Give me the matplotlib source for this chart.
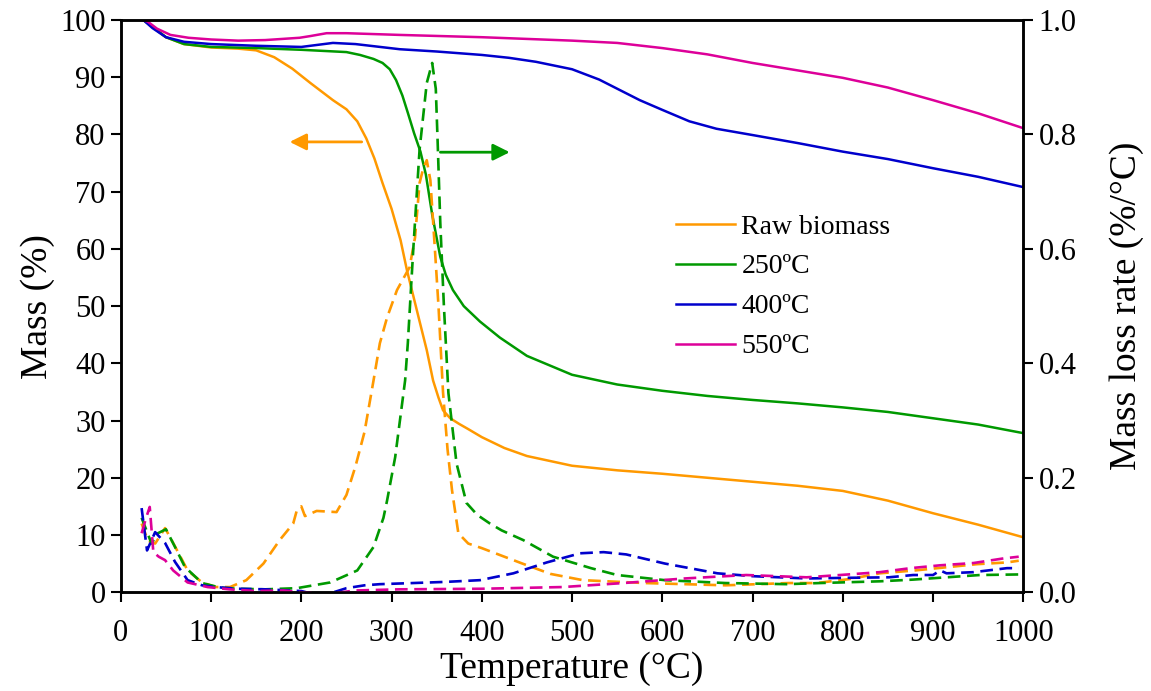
import matplotlib
matplotlib.use("Agg")
import matplotlib.pyplot as plt

plt.rcParams['font.family'] = ['Liberation Serif', 'DejaVu Serif']

# --- data ---
# mass curves (left axis, %)
t_raw = [25, 35, 50, 70, 100, 130, 150, 170, 190, 210, 235, 250, 262, 272, 281, 290, 300, 310, 317,
         330, 339, 346, 352, 357, 365, 375, 385, 400, 425, 450, 500, 550, 600, 650, 700, 750,
         800, 850, 900, 950, 1000]
m_raw = [100, 98.8, 97, 95.8, 95.2, 95.0, 94.7, 93.5, 91.5, 89, 86, 84.4, 82.3, 79.3, 75.8, 71.5,
         67, 61.5, 56.3, 48, 42.3, 37, 34, 31.8, 30.4, 29.4, 28.5, 27.1, 25.2, 23.8, 22.1, 21.3,
         20.7, 20.0, 19.3, 18.6, 17.7, 16.0, 13.8, 11.8, 9.6]

t_250 = [25, 35, 50, 70, 100, 150, 200, 250, 265, 280, 290, 298, 305, 312, 318, 325, 332, 338, 345,
         354, 360, 368, 380, 398, 420, 450, 500, 550, 600, 650, 700, 750, 800, 850, 900, 950, 1000]
m_250 = [100, 98.8, 97, 95.8, 95.3, 95.1, 94.8, 94.4, 93.9, 93.2, 92.5, 91.4, 89.5, 86.8, 83.8,
         80.2, 77, 73, 66, 58.6, 55.5, 52.8, 50, 47.3, 44.5, 41.3, 38, 36.3, 35.2, 34.3, 33.6, 33.0,
         32.3, 31.5, 30.4, 29.3, 27.8]

t_400 = [25, 35, 50, 70, 100, 150, 200, 215, 235, 260, 309, 350, 400, 430, 460, 500, 530, 550,
         575, 600, 630, 660, 700, 750, 800, 850, 900, 950, 1000]
m_400 = [100, 98.6, 97, 96.2, 95.8, 95.5, 95.3, 95.6, 96.0, 95.8, 94.9, 94.5, 93.9, 93.4, 92.7,
         91.4, 89.6, 88, 86, 84.3, 82.3, 81, 79.9, 78.5, 77, 75.7, 74.1, 72.6, 70.8]

t_550 = [25, 30, 40, 55, 75, 100, 130, 160, 198, 210, 228, 250, 309, 400, 500, 550, 600, 650,
         700, 750, 800, 850, 900, 950, 1000]
m_550 = [100, 99.7, 98.5, 97.4, 96.9, 96.6, 96.4, 96.5, 96.9, 97.2, 97.7, 97.7, 97.4, 97.0,
         96.4, 96.0, 95.1, 94.0, 92.5, 91.2, 89.9, 88.2, 86.0, 83.7, 81.1]

# mass loss rate curves (right axis, %/°C)
tr_raw = [23, 30, 38, 49, 60, 74, 90, 105, 121, 139, 158, 176, 191, 195, 200, 204, 217, 239, 250,
          260, 270, 280, 287, 295, 306, 320, 326, 331, 335, 339, 343, 348, 352, 357, 362, 367,
          374, 385, 400, 420, 445, 476, 512, 580, 670, 740, 771, 808, 841, 880, 949, 982, 995]
r_raw = [0.12, 0.09, 0.085, 0.112, 0.08, 0.038, 0.017, 0.009, 0.009, 0.021, 0.05, 0.091, 0.12,
         0.143, 0.15, 0.133, 0.142, 0.14, 0.17, 0.22, 0.28, 0.37, 0.435, 0.48, 0.528, 0.568, 0.62,
         0.715, 0.74, 0.755, 0.72, 0.6, 0.5, 0.35, 0.25, 0.178, 0.103, 0.085, 0.077, 0.065, 0.05,
         0.032, 0.021, 0.016, 0.012, 0.016, 0.016, 0.023, 0.033, 0.038, 0.049, 0.052, 0.055]

tr_250 = [23, 34, 41, 50, 60, 71, 90, 110, 130, 160, 195, 232, 262, 280, 291, 295, 304, 315, 318,
          324, 331, 339, 345, 349, 351, 354, 358, 363, 372, 383, 395, 409, 422, 446, 479, 521,
          550, 603, 670, 738, 775, 841, 878, 915, 952, 995]
r_250 = [0.13, 0.085, 0.103, 0.11, 0.079, 0.044, 0.016, 0.008, 0.006, 0.005, 0.007, 0.017, 0.038,
         0.079, 0.13, 0.16, 0.236, 0.37, 0.435, 0.598, 0.773, 0.89, 0.925, 0.88, 0.79, 0.645, 0.5,
         0.348, 0.225, 0.156, 0.135, 0.12, 0.108, 0.091, 0.062, 0.042, 0.03, 0.021, 0.016, 0.014,
         0.016, 0.019, 0.022, 0.026, 0.03, 0.031]

tr_400 = [23, 29, 38, 49, 60, 74, 90, 104, 130, 160, 200, 215, 228, 250, 270, 287, 324, 360, 398,
          435, 472, 509, 535, 560, 603, 661, 700, 760, 800, 851, 878, 900, 908, 915, 945, 982, 995]
r_400 = [0.147, 0.073, 0.105, 0.086, 0.053, 0.021, 0.012, 0.009, 0.006, 0.005, 0.002, -0.004,
         -0.004, 0.007, 0.012, 0.014, 0.016, 0.018, 0.021, 0.033, 0.052, 0.068, 0.07, 0.066, 0.05,
         0.033, 0.028, 0.024, 0.025, 0.026, 0.03, 0.03, 0.038, 0.033, 0.035, 0.042, 0.042]

tr_550 = [23, 28, 32, 36, 42, 49, 58, 74, 96, 120, 150, 180, 200, 230, 260, 309, 400, 490, 557,
          625, 693, 760, 806, 841, 875, 908, 945, 978, 995]
r_550 = [0.103, 0.13, 0.149, 0.07, 0.062, 0.056, 0.038, 0.017, 0.009, 0.005, 0.002, 0.003, 0.0,
         -0.003, 0.003, 0.005, 0.006, 0.009, 0.016, 0.024, 0.03, 0.026, 0.031, 0.035, 0.042,
         0.047, 0.051, 0.059, 0.062]

labels = ['Raw biomass', '250ºC', '400ºC', '550ºC']
colors = ['#FF9900', '#009900', '#0000CC', '#DD0099']

# --- figure ---
fig = plt.figure(figsize=(11.51, 6.91), dpi=100)
ax = fig.add_axes([0.105, 0.143, 0.784, 0.828])
ax2 = ax.twinx()

mass = [(t_raw, m_raw), (t_250, m_250), (t_400, m_400), (t_550, m_550)]
rate = [(tr_raw, r_raw), (tr_250, r_250), (tr_400, r_400), (tr_550, r_550)]

for (t, m), lab, c in zip(mass, labels, colors):
    ax.plot(t, m, color=c, lw=1.8, label=lab)
for (t, r), c in zip(rate, colors):
    ax2.plot(t, r, color=c, lw=1.9, dashes=(4.8, 2.5))

ax.set_xlim(0, 1000)
ax.set_ylim(0, 100)
ax2.set_ylim(0, 1.0)
ax.set_xticks(range(0, 1001, 100))
ax.set_yticks(range(0, 101, 10))
ax2.set_yticks([0.0, 0.2, 0.4, 0.6, 0.8, 1.0])
ax2.set_yticklabels(['0.0', '0.2', '0.4', '0.6', '0.8', '1.0'])

for a in (ax, ax2):
    for s in a.spines.values():
        s.set_linewidth(1.8)
    a.tick_params(direction='out', length=7, width=1.5, labelsize=22, pad=4)
ax.tick_params(axis='x', pad=12)

ax.set_xlabel('Temperature (°C)', fontsize=27, labelpad=3)
ax.set_ylabel('Mass (%)', fontsize=27, labelpad=4)
ax2.set_ylabel('Mass loss rate (%/°C)', fontsize=27, labelpad=24)

# arrows pointing to the relevant axis
ax.annotate('', xy=(184, 78.7), xytext=(270, 78.7),
            arrowprops=dict(arrowstyle='-|>,head_length=1.0,head_width=0.5', color=colors[0], lw=2))
ax.annotate('', xy=(434, 76.9), xytext=(351, 76.9),
            arrowprops=dict(arrowstyle='-|>,head_length=1.0,head_width=0.5', color=colors[1], lw=2))

ax.legend(loc='upper left', bbox_to_anchor=(0.6, 0.685), frameon=False, fontsize=20,
          handlelength=2.1, handletextpad=0.25, labelspacing=0.52, borderpad=0)

ax2.set_zorder(ax.get_zorder() + 1)
ax2.patch.set_visible(False)

fig.savefig('out.png', dpi=100)
